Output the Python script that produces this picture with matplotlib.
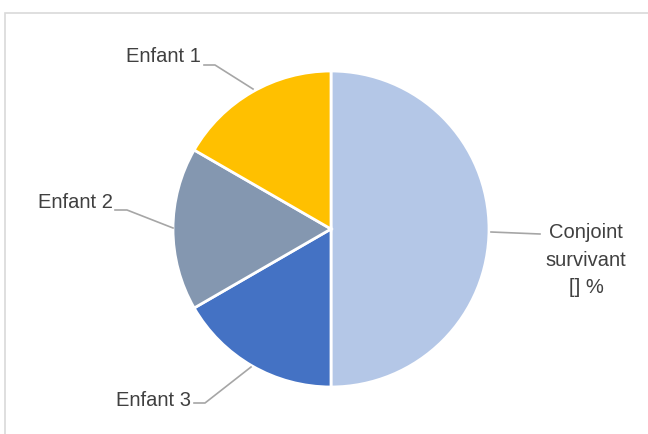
import matplotlib
matplotlib.use("Agg")
import matplotlib.pyplot as plt
from matplotlib.patches import Rectangle

# slice order: clockwise from 12 o'clock
labels = ["Conjoint\nsurvivant\n[] %", "Enfant 3", "Enfant 2", "Enfant 1"]
shares = [3, 1, 1, 1]
colors = ["#B4C7E7", "#4472C4", "#8497B0", "#FFC000"]

W, H = 648, 434
fig = plt.figure(figsize=(W / 100, H / 100), dpi=100)
ax = fig.add_axes([0, 0, 1, 1])

# chart frame (right/bottom run off the image)
fig.patches.append(Rectangle((5 / W, -0.1), 1.2, (H - 13) / H + 0.1, transform=fig.transFigure,
                             fill=False, edgecolor="#D9D9D9", linewidth=1.2))

cx, cy, r = 331, H - 229, 158
ax.pie(shares, colors=colors, startangle=90, counterclock=False, center=(cx, cy), radius=r,
       wedgeprops=dict(edgecolor="white", linewidth=2), frame=True)
ax.set_xlim(0, W)
ax.set_ylim(0, H)
ax.set_aspect("equal")
ax.axis("off")

txt = dict(color="#404040", fontsize=14.5, family="Liberation Sans")
line = dict(color="#A6A6A6", linewidth=1.2)

# leaders: (text x, text y, ha, elbow points)
leaders = [
    (586, H - 260, "center", [(491, H - 232), (540, H - 234)]),
    (191, H - 401, "right", [(251, H - 367), (205, H - 403), (194, H - 403)]),
    (113, H - 202, "right", [(173, H - 228), (127, H - 210), (115, H - 210)]),
    (201, H - 57, "right", [(253, H - 89), (215, H - 65), (204, H - 65)]),
]
for lab, (tx, ty, ha, pts) in zip(labels, leaders):
    xs, ys = zip(*pts)
    ax.plot(xs, ys, **line)
    ax.text(tx, ty, lab, ha=ha, va="center", linespacing=1.55, **txt)

fig.savefig("out.png", dpi=100)
